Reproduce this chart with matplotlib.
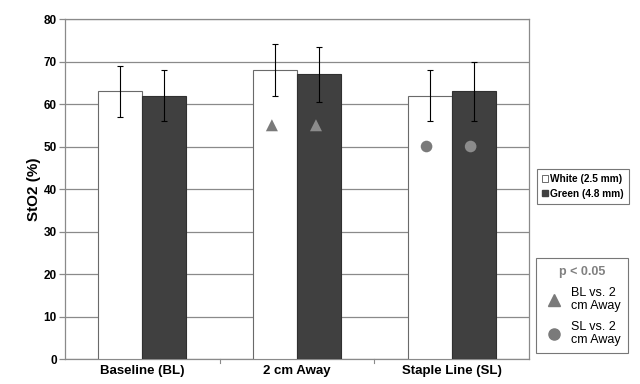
import matplotlib
matplotlib.use("Agg")
import matplotlib.pyplot as plt
import numpy as np
from matplotlib.patches import Patch
from matplotlib.lines import Line2D

categories = ["Baseline (BL)", "2 cm Away", "Staple Line (SL)"]
white_vals = [63, 68, 62]
white_err = [6, 6.2, 6]
green_vals = [62, 67, 63]
green_err = [6, 6.5, 7]
triangle_y = [55, 55]   # BL vs. 2 cm Away marks, on the 2 cm Away bars
circle_y = [50, 50]     # SL vs. 2 cm Away marks, on the Staple Line bars
yticks = [0, 10, 20, 30, 40, 50, 60, 70, 80]

plt.rcParams.update({
    "font.family": ["Liberation Sans", "DejaVu Sans"],
    "font.weight": "bold",
})

GRID = "#8a8a8a"
DARK = "#404040"
MARK = "#7a7a7a"

fig = plt.figure(figsize=(6.4, 3.84), dpi=100)
ax = fig.add_axes([0.1016, 0.0651, 0.7250, 0.8854])

x = np.arange(len(categories))
w = 0.285
ax.bar(x - w / 2, white_vals, w, color="white", edgecolor="#6a6a6a",
       linewidth=0.8, zorder=3)
ax.bar(x + w / 2, green_vals, w, color=DARK, edgecolor="#303030",
       linewidth=0.8, zorder=3)
ax.errorbar(x - w / 2, white_vals, yerr=white_err, fmt="none", ecolor="black",
            elinewidth=0.8, capsize=2.5, capthick=0.8, zorder=4)
ax.errorbar(x + w / 2, green_vals, yerr=green_err, fmt="none", ecolor="black",
            elinewidth=0.8, capsize=2.5, capthick=0.8, zorder=4)

ax.scatter([x[1] - w / 2 - 0.02, x[1] + w / 2 - 0.02], triangle_y, marker="^",
           s=75, color=[MARK, "#8c8c8c"], zorder=5, linewidths=0)
ax.scatter([x[2] - w / 2 - 0.02, x[2] + w / 2 - 0.02], circle_y, marker="o",
           s=70, color=[MARK, "#8c8c8c"], zorder=5, linewidths=0)

ax.set_xlim(-0.5, 2.5)
ax.set_ylim(0, 80)
ax.set_yticks(yticks)
ax.set_yticklabels([str(t) for t in yticks], fontsize=8.5, fontweight="bold")
ax.yaxis.grid(True, color=GRID, linewidth=0.9, zorder=0)
ax.set_axisbelow(True)
ax.set_xticks(x)
ax.set_xticklabels(categories, fontsize=9.5, fontweight="bold")
ax.tick_params(axis="x", length=0, pad=4)
ax.tick_params(axis="y", length=4, color=GRID, width=0.9, pad=2)
for b in [0.5, 1.5]:
    ax.plot([b, b], [0, -1.0], color=GRID, linewidth=0.8, clip_on=False)
for s in ax.spines.values():
    s.set_color(GRID)
    s.set_linewidth(0.9)

ax.set_ylabel("StO2 (%)", fontsize=11, fontweight="bold", labelpad=2)

h1 = [Patch(facecolor="white", edgecolor="#555555", linewidth=0.6,
            label="White (2.5 mm)"),
      Patch(facecolor=DARK, edgecolor=DARK, label="Green (4.8 mm)")]
leg1 = fig.legend(handles=h1, loc="upper left",
                  bbox_to_anchor=(537 / 640, 1 - 169 / 384),
                  fontsize=7.3, handlelength=0.55, handleheight=0.55,
                  handletextpad=0.25, borderpad=0.5, labelspacing=0.45,
                  frameon=True, fancybox=False, borderaxespad=0)
leg1.get_frame().set_edgecolor("#555555")
leg1.get_frame().set_linewidth(0.8)
for t in leg1.get_texts():
    t.set_fontweight("bold")

h2 = [Line2D([], [], marker="^", color=MARK, linestyle="none", markersize=8,
             label="BL vs. 2\ncm Away"),
      Line2D([], [], marker="o", color=MARK, linestyle="none", markersize=8,
             label="SL vs. 2\ncm Away")]
leg2 = fig.legend(handles=h2, loc="upper left",
                  bbox_to_anchor=(536 / 640, 1 - 258 / 384),
                  title="p < 0.05", fontsize=9, title_fontsize=9,
                  handlelength=1.7, handletextpad=0.5, borderpad=0.6,
                  labelspacing=0.8, frameon=True, fancybox=False,
                  borderaxespad=0)
leg2.get_title().set_color("#808080")
leg2.get_title().set_fontweight("bold")
leg2.get_frame().set_edgecolor("#555555")
leg2.get_frame().set_linewidth(0.8)
for t in leg2.get_texts():
    t.set_fontweight("normal")
    t.set_linespacing(1.0)

fig.savefig("out.png", dpi=100)
